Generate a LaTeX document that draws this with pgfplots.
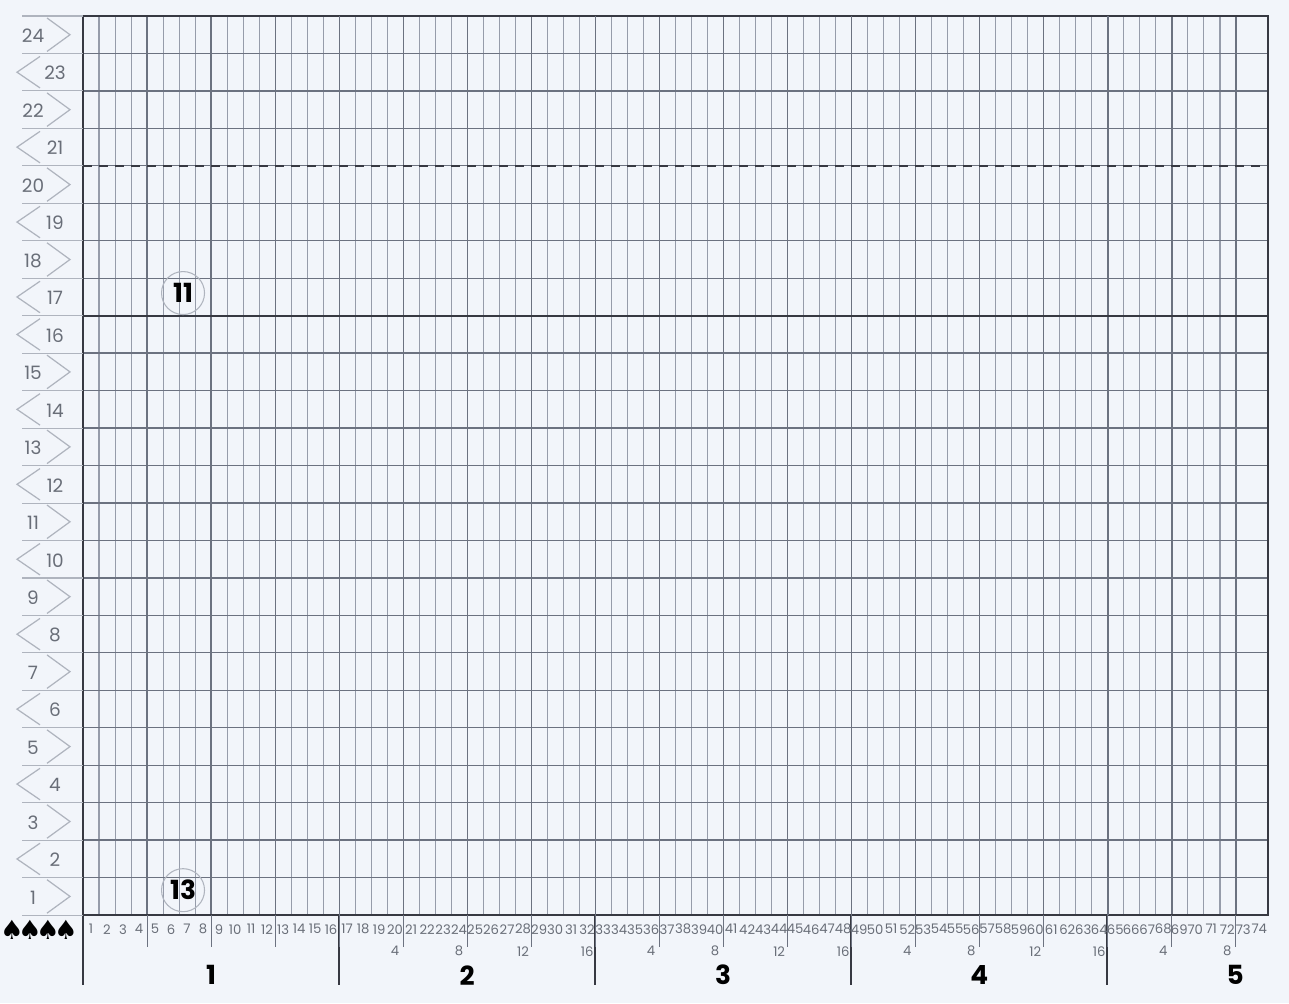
\documentclass[border=0pt]{standalone}
\usepackage{pgfplots}
\pgfplotsset{compat=1.18}
\usepackage{fontspec}
\setmainfont{Poppins}
\newfontfamily\symfont{DejaVu Sans}
\definecolor{paper}{RGB}{242,245,250}
\definecolor{gridlight}{RGB}{150,156,170}
\definecolor{gridmid}{RGB}{108,114,128}
\definecolor{griddark}{RGB}{55,57,66}
\definecolor{labgray}{RGB}{105,110,120}
\definecolor{arrowgray}{RGB}{175,180,190}

\begin{document}
\begin{tikzpicture}
\path[use as bounding box, fill=paper] (-1.66,-1.76) rectangle (24.12,18.3);
\begin{axis}[
  scale only axis, width=23.7cm, height=17.98cm,
  xmin=0, xmax=74, ymin=0, ymax=24,
  xtick={0,4,...,72}, minor x tick num=3,
  ytick={0,1,...,24},
  xticklabels={}, yticklabels={},
  major tick length=0pt, minor tick length=0pt, tick style={draw=none},
  grid=both,
  major grid style={gridmid, line width=0.75pt},
  minor grid style={gridlight, line width=0.6pt},
  extra x ticks={16,32,48,64}, extra x tick labels={},
  extra x tick style={grid style={griddark, line width=0.9pt}},
  axis line style={griddark, line width=1.3pt},
  clip=false,
]
% row 16/17 border and row 20/21 border
\addplot[griddark, line width=1.2pt] coordinates {(0,16) (74,16)};
\addplot[griddark, line width=1.4pt, dash pattern=on 0.18cm off 0.14cm] coordinates {(0,20) (74,20)};
\end{axis}

% labels around the grid, in picture pixels
\begin{scope}[x=0.02cm, y=-0.02cm, shift={(-1.66cm,18.3cm)}]
  \foreach \s in {0,...,4}
    \draw[griddark, line width=0.9pt] ({83+256*\s},915) -- ({83+256*\s},985);
  \foreach \c in {4,8,...,72}
    \draw[gridmid, line width=0.6pt] ({83+16*\c},915) -- ({83+16*\c},947);
  \foreach \c in {1,...,74}
    \node[labgray, font=\fontsize{7.5}{7.5}\selectfont, inner sep=0] at ({83+16*(\c-0.5)},929) {\c};
  \foreach \c/\l in {20/4,24/8,28/12,32/16,36/4,40/8,44/12,48/16,52/4,56/8,60/12,64/16,68/4,72/8}
    \node[labgray, font=\fontsize{7.5}{7.5}\selectfont, inner sep=0] at ({83+16*(\c-0.5)},951) {\l};
  \foreach \s in {1,...,5}
    \node[font=\bfseries\fontsize{15}{15}\selectfont, inner sep=0] at ({83+256*(\s-0.5)},975) {\s};
  \foreach \i in {0,...,3}
    \node[font=\symfont\fontsize{15}{15}\selectfont, inner sep=0] at ({12+18*\i},930) {♠};

  % row numbers with direction arrows
  \foreach \r in {1,...,24} {
    \pgfmathsetmacro\yt{915-\r*37.4583}
    \pgfmathsetmacro\yb{915-(\r-1)*37.4583}
    \pgfmathsetmacro\ym{(\yt+\yb)/2}
    \pgfmathtruncatemacro\dir{((\r<17 && mod(\r,2)==1) || (\r>16 && mod(\r,2)==0)) ? 1 : 0}
    \draw[arrowgray, line width=0.6pt] (22,\yb) -- (83,\yb);
    \ifnum\dir=1
      \draw[arrowgray, line width=0.7pt] (47,\yt+2) -- (70,\ym) -- (47,\yb-2);
      \node[labgray, font=\fontsize{10.5}{10.5}\selectfont, inner sep=0] at (33,\ym+1) {\r};
    \else
      \draw[arrowgray, line width=0.7pt] (40,\yt+3) -- (17,\ym) -- (40,\yb-3);
      \node[labgray, font=\fontsize{10.5}{10.5}\selectfont, inner sep=0] at (55,\ym+1) {\r};
    \fi
  }
  \draw[arrowgray, line width=0.6pt] (22,16) -- (83,16);

  % step markers
  \node[circle, draw=arrowgray, line width=0.6pt, minimum size=0.86cm, inner sep=0,
        font=\bfseries\fontsize{15}{15}\selectfont] at (183,293) {11};
  \node[circle, draw=arrowgray, line width=0.6pt, minimum size=0.86cm, inner sep=0,
        font=\bfseries\fontsize{15}{15}\selectfont] at (183,890) {13};
\end{scope}
\end{tikzpicture}
\end{document}
